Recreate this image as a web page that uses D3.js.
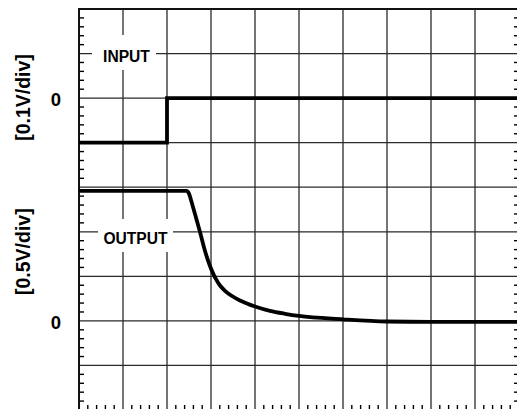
<!DOCTYPE html>
<html>
<head>
<meta charset="utf-8">
<script src="https://cdn.jsdelivr.net/npm/d3@7"></script>
<style>
  html, body { margin: 0; padding: 0; background: #fff; }
  svg { display: block; }
  text { font-family: "Liberation Sans", Arial, Helvetica, sans-serif; font-weight: bold; fill: #000; }
</style>
</head>
<body>
<svg id="chart" width="517" height="409"></svg>
<script>
// ---- data (time in horizontal divisions) ----
const inputTime   = [0, 2, 2, 10];
const inputVolts  = [-0.1, -0.1, 0, 0];           // 0.1 V/div

const outputTime  = [0, 2.443, 2.5, 2.545, 2.636, 2.75, 2.864, 2.977, 3.091, 3.205, 3.318, 3.477, 3.659, 4.0, 4.341, 4.682, 5.0, 6.0, 7.0, 8.0, 9.0, 10.0];
const outputVolts = [1.458, 1.458, 1.429, 1.357, 1.199, 0.997, 0.784, 0.616, 0.487, 0.397, 0.338, 0.279, 0.229, 0.162, 0.113, 0.080, 0.055, 0.018, -0.007, -0.012, -0.012, -0.012]; // 0.5 V/div

const xDivisions = 10;
const yDivisions = 9;
const minorPerDiv = 5;
const zeroLabels = ["0", "0"];
const axisTitles = ["[0.1V/div]", "[0.5V/div]"];
const traceLabels = ["INPUT", "OUTPUT"];

// ---- layout ----
const plotL = 79, plotR = 519, plotT = 9, plotB = 410;
const svg = d3.select("#chart");
svg.append("rect").attr("width", 517).attr("height", 409).attr("fill", "#fff");

const x = d3.scaleLinear().domain([0, xDivisions]).range([plotL, plotR]);
const yGrid = d3.scaleLinear().domain([0, yDivisions]).range([plotT, plotB]);
const yIn = d3.scaleLinear().domain([0.2, -0.7]).range([plotT, plotB]);
const yOut = d3.scaleLinear().domain([3.5, -1.0]).range([plotT, plotB]);

// grid
const g = svg.append("g");
g.selectAll("line.v").data(d3.range(1, xDivisions)).join("line")
  .attr("x1", d => x(d)).attr("x2", d => x(d)).attr("y1", plotT).attr("y2", plotB)
  .attr("stroke", "#2a2a2a").attr("stroke-width", 1.3);
g.selectAll("line.h").data(d3.range(1, yDivisions)).join("line")
  .attr("x1", plotL).attr("x2", plotR).attr("y1", d => yGrid(d)).attr("y2", d => yGrid(d))
  .attr("stroke", "#2a2a2a").attr("stroke-width", 1.3);

// minor ticks
const tickLen = 5;
const yMinor = d3.range(0, yDivisions * minorPerDiv + 1).filter(i => i % minorPerDiv !== 0).map(i => i / minorPerDiv);
const xMinor = d3.range(0, xDivisions * minorPerDiv + 1).filter(i => i % minorPerDiv !== 0).map(i => i / minorPerDiv);
g.selectAll("line.tl").data(yMinor).join("line")
  .attr("x1", plotL).attr("x2", plotL + tickLen).attr("y1", d => yGrid(d)).attr("y2", d => yGrid(d))
  .attr("stroke", "#000").attr("stroke-width", 1.4);
g.selectAll("line.tr").data(yMinor).join("line")
  .attr("x1", plotR - tickLen).attr("x2", plotR).attr("y1", d => yGrid(d)).attr("y2", d => yGrid(d))
  .attr("stroke", "#000").attr("stroke-width", 1.4);
g.selectAll("line.tb").data(xMinor).join("line")
  .attr("x1", d => x(d)).attr("x2", d => x(d)).attr("y1", plotB - tickLen).attr("y2", plotB)
  .attr("stroke", "#000").attr("stroke-width", 1.4);

// border
g.append("rect").attr("x", plotL).attr("y", plotT).attr("width", plotR - plotL).attr("height", plotB - plotT)
  .attr("fill", "none").attr("stroke", "#111").attr("stroke-width", 2);

// trace label boxes
const labelInfo = [
  { text: traceLabels[0], cx: 126.5, base: 62, box: [92, 35, 64, 35] },
  { text: traceLabels[1], cx: 135.5, base: 244, box: [98, 219, 75, 33] }
];
labelInfo.forEach(l => {
  svg.append("rect").attr("x", l.box[0]).attr("y", l.box[1]).attr("width", l.box[2]).attr("height", l.box[3]).attr("fill", "#fff");
  svg.append("text").attr("x", l.cx).attr("y", l.base).attr("text-anchor", "middle")
    .style("font-size", "15.6px").text(l.text);
});

// traces
const lineIn = d3.line().x(d => x(d[0])).y(d => yIn(d[1]));
svg.append("path").datum(d3.zip(inputTime, inputVolts)).attr("d", lineIn)
  .attr("fill", "none").attr("stroke", "#000").attr("stroke-width", 3.8).attr("stroke-linejoin", "miter");
const lineOut = d3.line().x(d => x(d[0])).y(d => yOut(d[1])).curve(d3.curveMonotoneX);
svg.append("path").datum(d3.zip(outputTime, outputVolts)).attr("d", lineOut)
  .attr("fill", "none").attr("stroke", "#000").attr("stroke-width", 3.8);

// zero labels
svg.append("text").attr("x", 56).attr("y", yIn(0) + 7.5).attr("text-anchor", "middle").style("font-size", "18.5px").text(zeroLabels[0]);
svg.append("text").attr("x", 56).attr("y", yOut(0) + 8.5).attr("text-anchor", "middle").style("font-size", "18.5px").text(zeroLabels[1]);

// axis titles
[[axisTitles[0], 97.5], [axisTitles[1], 251.7]].forEach(([t, cy]) => {
  svg.append("text").attr("transform", `translate(29.5,${cy}) rotate(-90)`).attr("text-anchor", "middle")
    .style("font-size", "19.5px").text(t);
});
</script>
</body>
</html>
